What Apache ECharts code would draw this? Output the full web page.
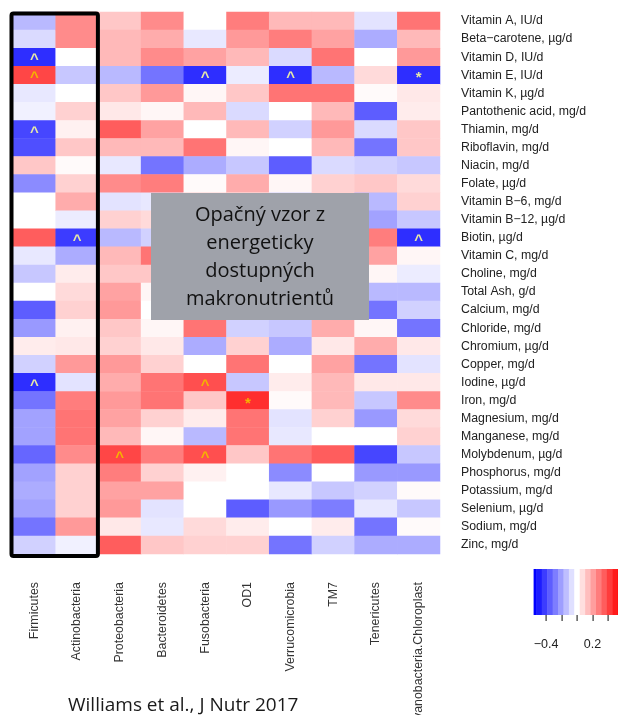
<!DOCTYPE html>
<html>
<head>
<meta charset="utf-8">
<script src="https://cdn.jsdelivr.net/npm/echarts@6/dist/echarts.min.js"></script>
<style>
  html, body { margin: 0; padding: 0; background: #ffffff; }
  #chart { width: 618px; height: 715px; }
</style>
</head>
<body>
<div id="chart"></div>
<script>
// Bacterial phyla (columns) and daily micronutrient intakes (rows)
const phyla = ['Firmicutes', 'Actinobacteria', 'Proteobacteria', 'Bacteroidetes', 'Fusobacteria',
  'OD1', 'Verrucomicrobia', 'TM7', 'Tenericutes', 'Cyanobacteria.Chloroplast'];

const nutrients = ['Vitamin A, IU/d', 'Beta\u2212carotene, \u00b5g/d', 'Vitamin D, IU/d', 'Vitamin E, IU/d',
  'Vitamin K, \u00b5g/d', 'Pantothenic acid, mg/d', 'Thiamin, mg/d', 'Riboflavin, mg/d', 'Niacin, mg/d',
  'Folate, \u00b5g/d', 'Vitamin B\u22126, mg/d', 'Vitamin B\u221212, \u00b5g/d', 'Biotin, \u00b5g/d',
  'Vitamin C, mg/d', 'Choline, mg/d', 'Total Ash, g/d', 'Calcium, mg/d', 'Chloride, mg/d',
  'Chromium, \u00b5g/d', 'Copper, mg/d', 'Iodine, \u00b5g/d', 'Iron, mg/d', 'Magnesium, mg/d',
  'Manganese, mg/d', 'Molybdenum, \u00b5g/d', 'Phosphorus, mg/d', 'Potassium, mg/d', 'Selenium, \u00b5g/d',
  'Sodium, mg/d', 'Zinc, mg/d'];

// Correlation coefficients per phylum, in the same order as the nutrients
const firmicutes      = [-0.15, -0.08, -0.45, 0.40, -0.05, -0.03, -0.40, -0.38, 0.12, -0.25, 0.00, 0.00, 0.35, -0.05, -0.12, 0.00, -0.35, -0.22, 0.04, -0.10, -0.45, -0.30, -0.20, -0.20, -0.33, -0.20, -0.18, -0.20, -0.30, -0.10];
const actinobacteria  = [0.25, 0.25, 0.00, -0.12, 0.00, 0.10, 0.03, 0.12, 0.01, 0.10, 0.18, -0.04, -0.42, -0.18, 0.04, 0.08, 0.10, 0.03, 0.05, 0.22, -0.06, 0.28, 0.30, 0.30, 0.25, 0.10, 0.10, 0.10, 0.22, -0.03];
const proteobacteria  = [0.12, 0.15, 0.15, -0.15, 0.12, 0.05, 0.35, 0.15, -0.05, 0.25, -0.06, 0.10, -0.15, 0.15, 0.12, 0.20, 0.22, 0.12, 0.10, 0.22, 0.18, 0.22, 0.20, 0.15, 0.40, 0.28, 0.20, 0.22, 0.05, 0.35];
const bacteroidetes   = [0.25, 0.18, 0.25, -0.30, 0.22, 0.02, 0.20, 0.15, -0.30, 0.28, -0.05, 0.08, -0.10, 0.30, 0.12, 0.02, 0.00, 0.02, 0.05, 0.10, 0.30, 0.30, 0.10, 0.02, 0.28, 0.10, 0.20, -0.06, -0.05, 0.12];
const fusobacteria    = [0.00, -0.05, 0.20, -0.45, 0.02, 0.15, 0.00, 0.30, -0.18, 0.01, 0.10, 0.05, 0.12, 0.15, 0.05, 0.10, 0.05, 0.30, -0.18, 0.00, 0.38, 0.12, 0.04, -0.15, 0.38, 0.03, 0.00, 0.00, 0.08, 0.10];
const od1             = [0.28, 0.22, 0.15, -0.04, 0.12, -0.08, 0.15, 0.02, -0.12, 0.18, 0.05, -0.05, 0.10, 0.05, -0.05, 0.05, -0.10, -0.10, 0.10, 0.30, -0.12, 0.45, 0.30, 0.30, 0.12, 0.00, 0.00, -0.35, 0.04, 0.10];
const verrucomicrobia = [0.15, 0.28, -0.08, -0.45, 0.30, 0.00, -0.10, 0.00, -0.35, 0.02, -0.10, 0.05, -0.05, 0.10, 0.00, -0.05, -0.10, -0.12, -0.18, 0.00, 0.04, 0.01, -0.06, -0.05, 0.30, -0.25, -0.05, -0.22, 0.00, -0.30];
const tm7             = [0.15, 0.20, 0.30, -0.15, 0.30, 0.15, 0.22, 0.15, -0.08, 0.10, 0.10, 0.08, 0.15, 0.12, 0.05, 0.10, 0.05, 0.18, 0.05, 0.20, 0.15, 0.15, 0.10, 0.00, 0.35, 0.00, -0.12, -0.28, 0.04, -0.10];
const tenericutes     = [-0.06, -0.18, 0.00, 0.08, 0.01, -0.35, -0.08, -0.30, -0.10, 0.12, -0.15, -0.20, 0.28, 0.20, 0.02, -0.15, -0.30, 0.02, 0.18, -0.30, 0.05, -0.12, -0.22, 0.00, -0.40, -0.22, -0.10, -0.05, -0.30, -0.18];
const cyanobacteria   = [0.30, 0.15, 0.22, -0.45, 0.05, 0.04, 0.12, 0.12, -0.12, 0.08, 0.10, -0.12, -0.45, 0.02, -0.04, -0.15, -0.10, -0.30, 0.05, -0.06, 0.05, 0.25, 0.08, 0.10, -0.12, -0.22, 0.01, -0.12, 0.01, -0.18];

// Significance marks: [phylum index, nutrient index, symbol]
const marks = [
  [0, 2, '^'], [0, 3, '^'], [0, 6, '^'], [0, 20, '^'],
  [1, 12, '^'],
  [2, 24, '^'],
  [4, 3, '^'], [4, 20, '^'], [4, 24, '^'],
  [5, 21, '*'],
  [6, 3, '^'],
  [9, 3, '*'], [9, 12, '^']
];

// Colour key stripes: [from, to, value]
const keyStripes = [
  [-0.56, -0.525, -0.55], [-0.525, -0.455, -0.49], [-0.455, -0.385, -0.42], [-0.385, -0.315, -0.35],
  [-0.315, -0.245, -0.28], [-0.245, -0.175, -0.21], [-0.175, -0.105, -0.14], [-0.105, -0.035, -0.07],
  [-0.035, 0.035, 0.00], [0.035, 0.105, 0.07], [0.105, 0.175, 0.14], [0.175, 0.245, 0.21],
  [0.245, 0.315, 0.28], [0.315, 0.385, 0.35], [0.385, 0.455, 0.42], [0.455, 0.525, 0.49], [0.525, 0.53, 0.55]
];
const keyTicks = [-0.4, -0.2, 0, 0.2, 0.4];
const keyLabels = [-0.4, 0.2];

const columns = [firmicutes, actinobacteria, proteobacteria, bacteroidetes, fusobacteria,
  od1, verrucomicrobia, tm7, tenericutes, cyanobacteria];

const markLookup = {};
marks.forEach(([c, r, s]) => { markLookup[c + ',' + r] = s; });

// Heatmap cells; marks over blue cells read paler than those over red cells
const cells = [];
columns.forEach((col, c) => col.forEach((v, r) => {
  const s = markLookup[c + ',' + r];
  cells.push(s ? { value: [c, r, v], label: { color: v < 0 ? '#e6e8a8' : '#f5b400' } } : [c, r, v]);
}));

const labelFont = '"Liberation Sans", Arial, sans-serif';
const gridW = 427, gridH = 542;

const chart = echarts.init(document.getElementById('chart'), null, { renderer: 'canvas' });

chart.setOption({
  animation: false,
  backgroundColor: '#ffffff',
  grid: [
    { left: 13, top: 12, width: gridW, height: gridH, containLabel: false, outerBoundsMode: 'none' },
    { left: 533.6, top: 569, width: 84.4, height: 46, containLabel: false, outerBoundsMode: 'none' }
  ],
  xAxis: [
    {
      type: 'category', gridIndex: 0, data: phyla, position: 'bottom',
      axisLine: { show: false }, axisTick: { show: false }, splitLine: { show: false },
      axisLabel: {
        rotate: 90, margin: 28, fontSize: 12.4, color: '#333', fontFamily: labelFont, interval: 0,
        padding: [0, 0, 8, 0]
      }
    },
    {
      type: 'value', gridIndex: 1, min: -0.56, max: 0.529, position: 'bottom',
      axisLine: { show: false }, splitLine: { show: false }, axisTick: { show: false },
      axisLabel: {
        show: true, customValues: keyLabels, margin: 23, fontSize: 12.5, color: '#222', fontFamily: labelFont,
        formatter: v => (v < 0 ? '\u2212' : '') + Math.abs(v).toFixed(1)
      }
    }
  ],
  yAxis: [
    {
      type: 'category', gridIndex: 0, data: nutrients, inverse: true, position: 'right',
      axisLine: { show: false }, axisTick: { show: false }, splitLine: { show: false },
      axisLabel: { margin: 21, fontSize: 12.3, color: '#222', fontFamily: labelFont, interval: 0 }
    },
    { type: 'value', gridIndex: 1, min: 0, max: 1, show: false }
  ],
  visualMap: {
    type: 'continuous', show: false, min: -0.55, max: 0.55, dimension: 2,
    seriesIndex: [0, 1],
    inRange: { color: ['#0000ff', '#ffffff', '#ff0000'] }
  },
  series: [
    {
      type: 'heatmap', xAxisIndex: 0, yAxisIndex: 0, data: cells,
      emphasis: { disabled: true },
      label: {
        show: true,
        formatter: p => markLookup[p.value[0] + ',' + p.value[1]] || '',
        fontSize: 15, fontWeight: 'bold', fontFamily: labelFont,
        offset: [0, 3],
        color: '#f5b800'
      }
    },
    {
      // colour key stripes
      type: 'custom', xAxisIndex: 1, yAxisIndex: 1, data: keyStripes,
      silent: true,
      renderItem: (params, api) => {
        const p0 = api.coord([api.value(0), 1]);
        const p1 = api.coord([api.value(1), 0]);
        return {
          type: 'rect',
          shape: { x: p0[0], y: p0[1], width: p1[0] - p0[0] + 0.5, height: p1[1] - p0[1] },
          style: { fill: api.visual('color') }
        };
      }
    },
    {
      // colour key tick marks below the stripes
      type: 'custom', xAxisIndex: 1, yAxisIndex: 1, data: keyTicks.map(v => [v, 0]),
      silent: true, clip: false, z: 10,
      renderItem: (params, api) => {
        const p = api.coord([api.value(0), api.value(1)]);
        return {
          type: 'rect',
          shape: { x: Math.round(p[0]) - 0.5, y: p[1], width: 1.2, height: 6 },
          style: { fill: '#333333' }
        };
      }
    }
  ]
});

// Frame around the first two phyla, the grey call-out and the source note
const a = chart.convertToPixel({ xAxisIndex: 0, yAxisIndex: 0 }, [0, 0]);
const b = chart.convertToPixel({ xAxisIndex: 0, yAxisIndex: 0 }, [1, nutrients.length - 1]);
const bw = gridW / phyla.length;
const bh = gridH / nutrients.length;

chart.setOption({
  graphic: [
    {
      type: 'rect', z: 100,
      shape: { x: a[0] - bw / 2 - 1.5, y: a[1] - bh / 2 + 1.5, width: (b[0] - a[0]) + bw + 1, height: (b[1] - a[1]) + bh + 0.5, r: 2 },
      style: { fill: 'none', stroke: '#000000', lineWidth: 4 }
    },
    {
      type: 'rect', z: 100,
      shape: { x: 151, y: 193, width: 218, height: 127 },
      style: { fill: '#9fa2aa' }
    },
    {
      type: 'text', z: 101,
      x: 260, y: 257,
      style: {
        text: 'Opačný vzor z\nenergeticky\ndostupných\nmakronutrientů',
        fill: '#111111', font: '20px "Open Sans", sans-serif',
        align: 'center', verticalAlign: 'middle', lineHeight: 28
      }
    },
    {
      type: 'text', z: 101,
      x: 68, y: 706,
      style: {
        text: 'Williams et al., J Nutr 2017',
        fill: '#1a1a1a', font: '19px "Open Sans", sans-serif',
        align: 'left', verticalAlign: 'middle'
      }
    }
  ]
});
</script>
</body>
</html>
